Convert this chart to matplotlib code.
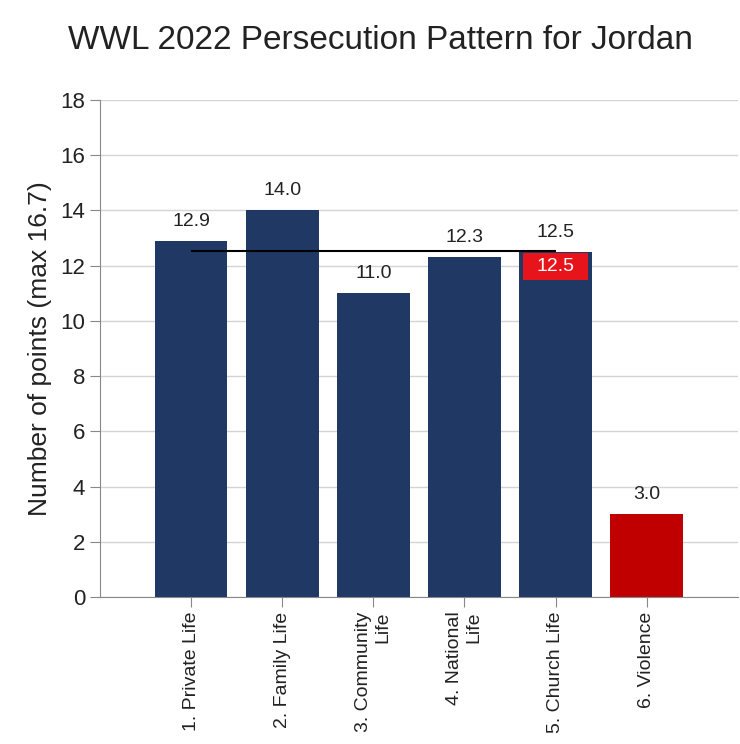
import matplotlib.pyplot as plt
from matplotlib.patches import Rectangle
import numpy as np

plt.rcParams['font.family'] = ['Liberation Sans', 'DejaVu Sans']

# data
categories = ["1. Private Life", "2. Family Life", "3. Community\nLife",
              "4. National\nLife", "5. Church Life", "6. Violence"]
scores = [12.9, 14.0, 11.0, 12.3, 12.5, 3.0]
bar_colors = ["#1f3864"] * 5 + ["#c00000"]

###################################################################################################

x = np.arange(1, len(categories) + 1)
avg = np.mean(scores[:5])

fig = plt.figure(figsize=(7.4, 7.44), dpi=100)
ax = fig.add_axes([0.135, 0.1976, 0.862, 0.668])

ax.bar(x, scores, width=0.8, color=bar_colors, zorder=2)

for xi, val in zip(x, scores):
    ax.annotate(f"{val:.1f}", (xi, val), xytext=(0, 8), textcoords="offset points",
                ha="center", va="bottom", fontsize=14, color="#222222")

# average line over the five sphere scores
ax.hlines(avg, x[0], x[4], color="black", linewidth=1.5, zorder=3)
ax.add_patch(Rectangle((x[4] - 0.36, avg - 1.05), 0.72, 0.98, facecolor="#e8141c",
                       edgecolor="none", zorder=4))
ax.text(x[4], avg - 0.56, f"{avg:.1f}", ha="center", va="center", fontsize=14,
        color="white", zorder=5)

ax.set_xlim(0, 7)
ax.set_ylim(0, 18)
ax.set_yticks(np.arange(0, 19, 2))
ax.set_xticks(x)
ax.set_xticklabels(categories, rotation=90, fontsize=14, ha="center", va="top",
                   multialignment="right", color="#222222")
ax.tick_params(axis="y", labelsize=16, length=7, color="#888888", labelcolor="#222222")
ax.tick_params(axis="x", length=7, color="#888888")

ax.grid(axis="y", color="#d4d4d4", linewidth=1, zorder=0)
for side in ["top", "right"]:
    ax.spines[side].set_visible(False)
for side in ["left", "bottom"]:
    ax.spines[side].set_color("#888888")

ax.set_ylabel("Number of points (max 16.7)", fontsize=19, color="#222222", labelpad=6)
fig.text(0.514, 0.945, "WWL 2022 Persecution Pattern for Jordan", ha="center", va="center",
         fontsize=24, color="#222222")

fig.savefig("out.png")
